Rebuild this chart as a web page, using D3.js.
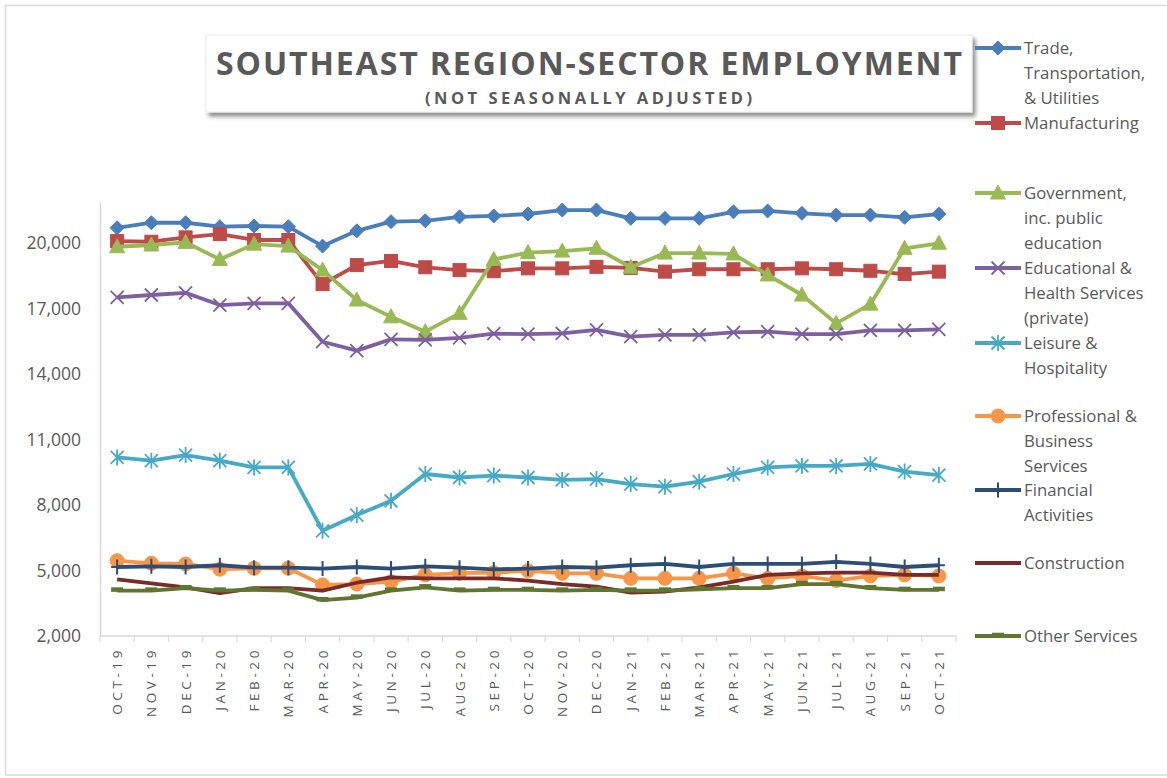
<!DOCTYPE html>
<html><head><meta charset="utf-8">
<script src="https://cdn.jsdelivr.net/npm/d3@7"></script>
<style>
body{margin:0;background:#fff;}
svg{display:block;font-family:"Open Sans",sans-serif;}
</style>
</head><body>
<svg id="chart" width="1167" height="778"></svg>
<script>
const months = ["OCT-19","NOV-19","DEC-19","JAN-20","FEB-20","MAR-20","APR-20","MAY-20","JUN-20","JUL-20","AUG-20","SEP-20","OCT-20","NOV-20","DEC-20","JAN-21","FEB-21","MAR-21","APR-21","MAY-21","JUN-21","JUL-21","AUG-21","SEP-21","OCT-21"];
const yTicks = [2000,5000,8000,11000,14000,17000,20000];

const trade = [20700,20930,20930,20750,20780,20750,19860,20560,20980,21020,21200,21240,21330,21510,21510,21130,21130,21130,21430,21470,21360,21280,21280,21180,21330];
const manufacturing = [20090,20060,20260,20410,20140,20140,18120,18990,19180,18890,18760,18710,18840,18840,18910,18860,18690,18800,18800,18800,18840,18800,18730,18580,18690];
const government = [19830,19910,20030,19250,19950,19860,18760,17390,16620,15940,16780,19250,19560,19630,19760,18890,19540,19540,19500,18540,17620,16320,17200,19760,19990];
const education = [17510,17620,17720,17160,17240,17240,15480,15070,15590,15560,15660,15850,15830,15860,16020,15710,15790,15790,15910,15940,15830,15830,16000,16000,16050];
const leisure = [10180,10030,10290,10030,9720,9720,6820,7540,8190,9420,9260,9350,9260,9150,9190,8960,8840,9070,9420,9720,9790,9790,9880,9530,9370];
const professional = [5450,5330,5300,5060,5100,5100,4340,4380,4490,4800,4880,4900,4990,4870,4870,4640,4640,4640,4870,4640,4750,4540,4750,4800,4750];
const financial = [5160,5190,5160,5240,5130,5130,5090,5160,5090,5190,5130,5050,5090,5160,5130,5240,5300,5160,5300,5300,5300,5400,5300,5160,5240];
const construction = [4590,4410,4230,3960,4190,4190,4080,4440,4690,4640,4640,4640,4540,4380,4260,3990,4030,4230,4490,4800,4870,4900,4900,4800,4800];
const otherServices = [4080,4080,4190,4080,4110,4080,3640,3760,4080,4230,4080,4110,4110,4080,4110,4080,4080,4140,4190,4190,4380,4380,4190,4110,4110];

const seriesNames = [
  ["Trade,","Transportation,","& Utilities"],
  ["Manufacturing"],
  ["Government,","inc. public","education"],
  ["Educational &","Health Services","(private)"],
  ["Leisure &","Hospitality"],
  ["Professional &","Business","Services"],
  ["Financial","Activities"],
  ["Construction"],
  ["Other Services"]
];
const seriesValues = [trade, manufacturing, government, education, leisure, professional, financial, construction, otherServices];
const seriesColors = ["#4A7EBB","#BE4B48","#98B954","#7D60A0","#46AAC5","#F79646","#2C4D75","#772C2A","#5F7530"];
const seriesMarkers = ["diamond","square","triangle","x","star","circle","plus","none","dash"];
const legendRows = [48,123,193,268,343,416,490,563,636];

const title = "SOUTHEAST REGION-SECTOR EMPLOYMENT";
const subtitle = "(NOT SEASONALLY ADJUSTED)";

const svg = d3.select("#chart");
const textColor = "#595959";
const axisColor = "#d9d9d9";

// outer frame
svg.append("rect").attr("x",5.5).attr("y",5.5).attr("width",1180).attr("height",769.5)
  .attr("fill","#fff").attr("stroke","#d9d9d9").attr("stroke-width",1.5);

const x = d3.scalePoint().domain(months).range([100,956]).padding(0.5);
const y = d3.scaleLinear().domain([2000,21880]).range([636,202]);

// axes
const yAxis = d3.axisLeft(y).tickValues(yTicks).tickFormat(d3.format(",")).tickSize(0).tickPadding(19);
const gy = svg.append("g").attr("transform","translate(100,0)").call(yAxis);
gy.select(".domain").attr("stroke",axisColor).attr("stroke-width",1.5);
gy.selectAll("text").attr("fill",textColor).attr("font-size",17.5).attr("font-family","Open Sans");

const gx = svg.append("g").attr("transform","translate(0,636)");
gx.append("line").attr("x1",100).attr("x2",956).attr("stroke",axisColor).attr("stroke-width",1.5);
const step = x.step();
gx.selectAll("line.tk").data(d3.range(months.length+1)).join("line").attr("class","tk")
  .attr("x1",i=>x(months[0]) - step/2 + i*step).attr("x2",i=>x(months[0]) - step/2 + i*step)
  .attr("y1",0).attr("y2",6).attr("stroke",axisColor).attr("stroke-width",1.2);
gx.selectAll("text").data(months).join("text")
  .attr("transform",d=>`translate(${x(d)+5},11) rotate(-90)`)
  .attr("text-anchor","end").attr("fill",textColor).attr("font-size",13.5)
  .attr("letter-spacing","3.6px").text(d=>d);

// marker drawing
function drawMarker(g, type, color){
  switch(type){
    case "diamond":
      g.append("path").attr("d","M0,-7L7,0L0,7L-7,0Z").attr("fill",color).attr("stroke",color); break;
    case "square":
      g.append("rect").attr("x",-6.5).attr("y",-6.5).attr("width",13).attr("height",13).attr("fill",color).attr("stroke",color); break;
    case "triangle":
      g.append("path").attr("d","M0,-8L7.5,6L-7.5,6Z").attr("fill",color).attr("stroke",color); break;
    case "x":
      g.append("path").attr("d","M-6.5,-6.5L6.5,6.5M-6.5,6.5L6.5,-6.5").attr("stroke",color).attr("stroke-width",1.8).attr("fill","none"); break;
    case "star":
      g.append("path").attr("d","M-6.5,-6.5L6.5,6.5M-6.5,6.5L6.5,-6.5M0,-8L0,8").attr("stroke",color).attr("stroke-width",1.8).attr("fill","none"); break;
    case "circle":
      g.append("circle").attr("r",7).attr("fill",color).attr("stroke",color); break;
    case "plus":
      g.append("path").attr("d","M0,-7.5L0,7.5M-6,0L6,0").attr("stroke",color).attr("stroke-width",2).attr("fill","none"); break;
    case "dash":
      g.append("path").attr("d","M-6,-1L6,-1").attr("stroke",color).attr("stroke-width",4.5).attr("fill","none"); break;
  }
}

const line = d3.line().x((d,i)=>x(months[i])).y(d=>y(d));
seriesValues.forEach((vals,si)=>{
  const color = seriesColors[si];
  const g = svg.append("g");
  g.append("path").datum(vals).attr("d",line).attr("fill","none")
    .attr("stroke",color).attr("stroke-width",3.8).attr("stroke-linejoin","round");
  if(seriesMarkers[si] !== "none"){
    vals.forEach((v,i)=>{
      const mg = g.append("g").attr("transform",`translate(${x(months[i])},${y(v)})`);
      drawMarker(mg, seriesMarkers[si], color);
    });
  }
});

// title box
const defs = svg.append("defs");
const f = defs.append("filter").attr("id","shadow").attr("x","-5%").attr("y","-20%").attr("width","115%").attr("height","160%");
f.append("feDropShadow").attr("dx",3).attr("dy",4).attr("stdDeviation",2.2).attr("flood-color","#000").attr("flood-opacity",0.45);
svg.append("rect").attr("x",206).attr("y",35).attr("width",766).attr("height",77)
  .attr("fill","#fff").attr("stroke","#ececec").attr("filter","url(#shadow)");
svg.append("text").attr("x",216).attr("y",75).attr("textLength",746).attr("lengthAdjust","spacing")
  .attr("font-size",32).attr("font-weight","bold").attr("fill",textColor).text(title);
svg.append("text").attr("x",425).attr("y",104).attr("textLength",327).attr("lengthAdjust","spacing")
  .attr("font-size",16.5).attr("font-weight","bold").attr("fill",textColor).text(subtitle);

// legend
const lg = svg.append("g");
seriesNames.forEach((lines,si)=>{
  const yy = legendRows[si];
  const color = seriesColors[si];
  lg.append("line").attr("x1",975).attr("x2",1021).attr("y1",yy).attr("y2",yy)
    .attr("stroke",color).attr("stroke-width",3.8);
  if(seriesMarkers[si] !== "none"){
    const mg = lg.append("g").attr("transform",`translate(998,${yy})`);
    drawMarker(mg, seriesMarkers[si], color);
  }
  lines.forEach((t,li)=>{
    lg.append("text").attr("x",1024).attr("y",yy + li*25.3).attr("dy","0.35em")
      .attr("font-size",16.8).attr("fill",textColor).text(t);
  });
});
</script>
</body></html>
